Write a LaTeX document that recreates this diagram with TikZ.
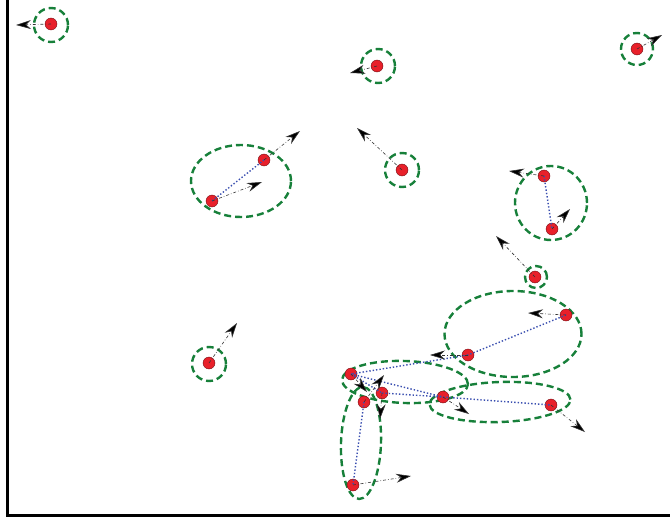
\documentclass[tikz,border=0pt]{standalone}
\usetikzlibrary{arrows.meta,shapes.geometric}
\definecolor{ptred}{HTML}{E8202A}
\definecolor{ringgreen}{HTML}{17803A}
\definecolor{linkblue}{HTML}{3A4FB0}
\begin{document}
\begin{tikzpicture}[x=1pt,y=-1pt,
  pt/.style={circle,fill=ptred,draw=ptred!50!black,line width=0.4pt,inner sep=0pt,minimum size=12pt},
  ring/.style={ellipse,draw=ringgreen,line width=2.4pt,dash pattern=on 7pt off 4pt,inner sep=0pt},
  vel/.style={-{Stealth[length=15pt,width=9pt,fill=black]},line width=0.6pt,dash dot,draw=black!80},
  link/.style={draw=linkblue,line width=1.4pt,dotted}]
\useasboundingbox (0,0) rectangle (670,519);
\draw[line width=3pt] (7.5,0) -- (7.5,515.5) -- (670,515.5);
% rings
\node[ring,minimum width=34pt,minimum height=34pt] (r1) at (51,25) {};
\node[ring,minimum width=34pt,minimum height=34pt] (r2) at (378,66) {};
\node[ring,minimum width=34pt,minimum height=34pt] (r3) at (402,170) {};
\node[ring,minimum width=32pt,minimum height=32pt] (r4) at (637,49) {};
\node[ring,minimum width=100pt,minimum height=72pt] (r5) at (241,181) {};
\node[ring,minimum width=72pt,minimum height=74pt] (r6) at (551,203) {};
\node[ring,minimum width=22pt,minimum height=22pt] (r7) at (536,277) {};
\node[ring,minimum width=34pt,minimum height=34pt] (r8) at (209,364) {};
\node[ring,minimum width=137pt,minimum height=86pt] (r9) at (513,334) {};
\node[ring,minimum width=126pt,minimum height=42pt,rotate=-2] (r10) at (405,382) {};
\node[ring,minimum width=141pt,minimum height=40pt,rotate=2] (r11) at (500,402) {};
\node[ring,minimum width=40pt,minimum height=112pt,rotate=-2] (r12) at (361,443) {};
% points
\node[pt] (p1) at (51,24) {};
\node[pt] (p2) at (377,66) {};
\node[pt] (p3) at (402,170) {};
\node[pt] (p4) at (637,49) {};
\node[pt] (p5a) at (264,160) {};
\node[pt] (p5b) at (212,201) {};
\node[pt] (p6a) at (544,176) {};
\node[pt] (p6b) at (552,229) {};
\node[pt] (p7) at (535,277) {};
\node[pt] (p8) at (209,363) {};
\node[pt] (p9a) at (566,315) {};
\node[pt] (p9b) at (468,355) {};
\node[pt] (pA) at (351,374) {};
\node[pt] (pB) at (364,402) {};
\node[pt] (pC) at (382,393) {};
\node[pt] (pD) at (443,397) {};
\node[pt] (pE) at (551,405) {};
\node[pt] (pF) at (353,485) {};
% links
\draw[link] (p5a.center) -- (p5b.center);
\draw[link] (p6a.center) -- (p6b.center);
\draw[link] (p9a.center) -- (p9b.center);
\draw[link] (p9b.center) -- (pA.center);
\draw[link] (pA.center) -- (pC.center);
\draw[link] (pA.center) -- (pD.center);
\draw[link] (pC.center) -- (pD.center);
\draw[link] (pD.center) -- (pE.center);
\draw[link] (pB.center) -- (pF.center);
% velocity targets
\coordinate (v1) at (16,25);
\coordinate (v2) at (350,73);
\coordinate (v3) at (357,128);
\coordinate (v4) at (662,35);
\coordinate (v5a) at (300,131);
\coordinate (v5b) at (262,182);
\coordinate (v6a) at (509,171);
\coordinate (v6b) at (570,209);
\coordinate (v7) at (496,236);
\coordinate (v8) at (237,323);
\coordinate (v9a) at (528,313);
\coordinate (v9b) at (430,355);
\coordinate (vA) at (367,392);
\coordinate (vB) at (384,375);
\coordinate (vC) at (380,419);
\coordinate (vD) at (469,414);
\coordinate (vE) at (585,432);
\coordinate (vF) at (411,476);
\draw[vel] (p1.center) -- (v1);
\draw[vel] (p2.center) -- (v2);
\draw[vel] (p3.center) -- (v3);
\draw[vel] (p4.center) -- (v4);
\draw[vel] (p5a.center) -- (v5a);
\draw[vel] (p5b.center) -- (v5b);
\draw[vel] (p6a.center) -- (v6a);
\draw[vel] (p6b.center) -- (v6b);
\draw[vel] (p7.center) -- (v7);
\draw[vel] (p8.center) -- (v8);
\draw[vel] (p9a.center) -- (v9a);
\draw[vel] (p9b.center) -- (v9b);
\draw[vel] (pA.center) -- (vA);
\draw[vel] (pB.center) -- (vB);
\draw[vel] (pC.center) -- (vC);
\draw[vel] (pD.center) -- (vD);
\draw[vel] (pE.center) -- (vE);
\draw[vel] (pF.center) -- (vF);
\end{tikzpicture}
\end{document}
